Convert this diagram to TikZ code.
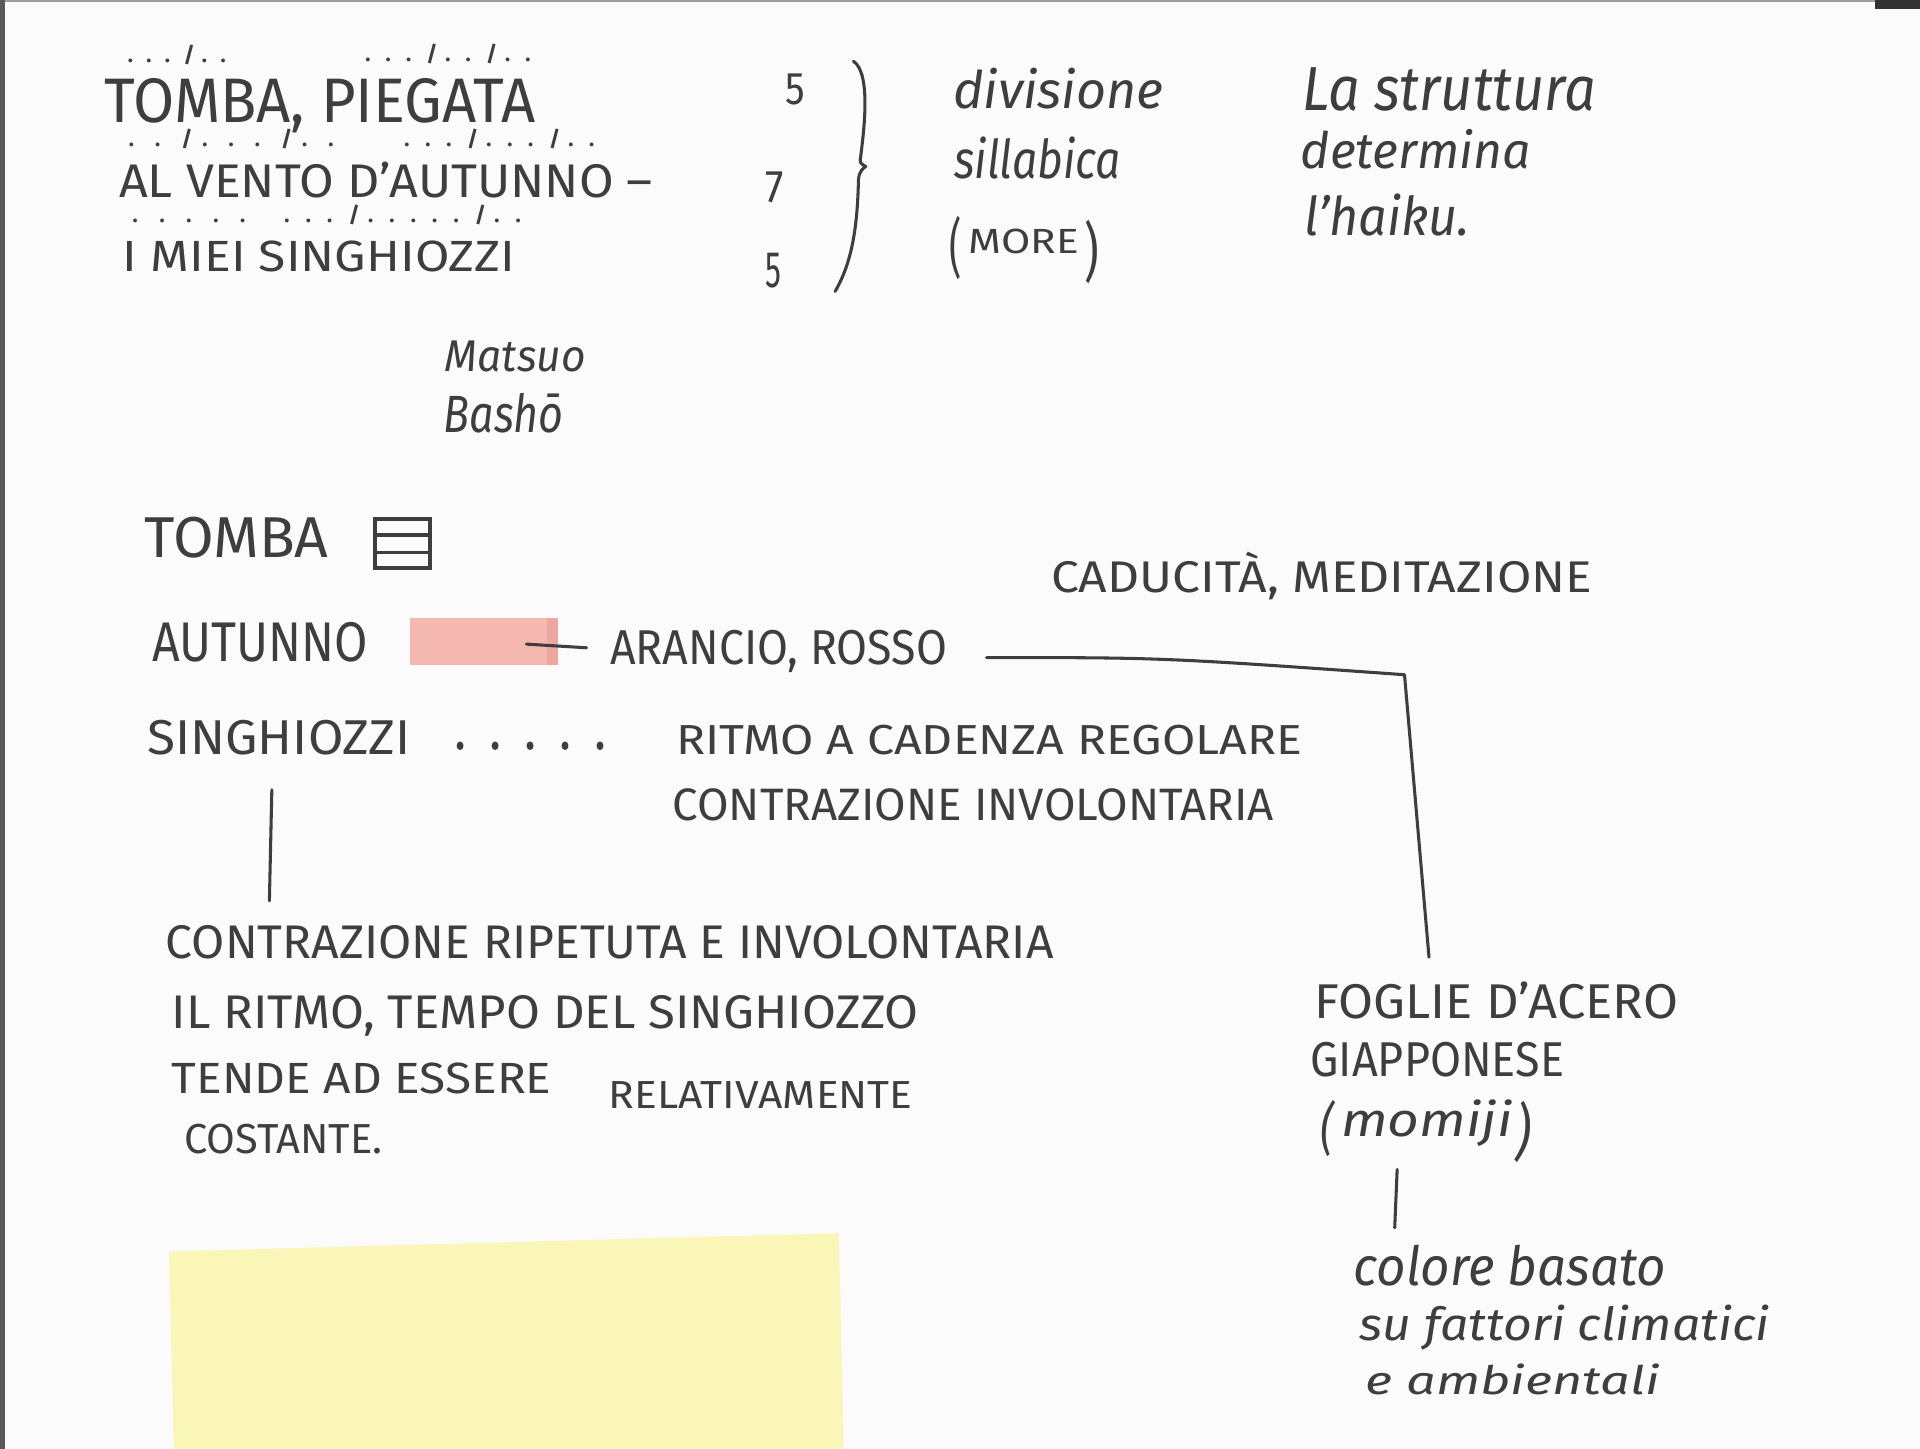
\documentclass[tikz,border=0pt]{standalone}
\usepackage{fontspec}
\setmainfont{Fira Sans}
\usepackage{graphicx}
\usetikzlibrary{calc}
% one unit of the sketch grid
\newlength\upx
\setlength\upx{0.6pt}
% hand-lettered text squeezed into a given width and height (in grid units)
\newcommand\hand[3]{\resizebox{#1\upx}{#2\upx}{#3}}
\newcommand\handt[3]{\resizebox*{#1\upx}{#2\upx}{#3}}
% scansion marks spread evenly over a given width
\newcommand\scan[2]{{\fontsize{10.5pt}{12pt}\selectfont\bfseries\makebox[#1\upx][s]{#2}}}
\definecolor{ink}{RGB}{62,62,62}
\definecolor{paper}{RGB}{251,251,251}
\definecolor{edge}{RGB}{88,88,88}
\definecolor{marker}{RGB}{245,184,177}
\definecolor{markerdeep}{RGB}{239,166,160}
\definecolor{sticky}{RGB}{249,246,184}
\begin{document}
\begin{tikzpicture}[x=0.6pt,y=-0.6pt,
  txt/.style={anchor=base west, inner sep=0pt, text=ink},
  cur/.style={txt, font=\itshape},
  pen/.style={draw=ink, line width=1.5pt, line cap=round, line join=round},
  tombbox/.style={draw=ink, line width=1.8pt, minimum width=27pt, minimum height=24pt, inner sep=0pt},
  swatchbox/.style={fill=marker, minimum width=72.6pt, minimum height=22.8pt, inner sep=0pt}]
\useasboundingbox (0,0) rectangle (1568,1183);
\fill[paper] (0,0) rectangle (1568,1183);
% scanner edges
\fill[edge] (0,0) rectangle (4,1183);
\fill[edge!60] (4,0) rectangle (1531,1.6);
\fill[black!80] (1531,0) rectangle (1568,7);

% ---- the haiku with its scansion ----
\node[txt] (s1a) at (104,51) {\scan{80}{. . . / . .}};
\node[txt] (s1b) at (298,50) {\scan{135}{. . . / . . / . .}};
\node[txt] (v1) at (85,100) {\hand{352}{36}{TOMBA, PIEGATA}};
\node[txt] (s2a) at (105,120) {\scan{167}{. . / . . . / . .}};
\node[txt] (s2b) at (330,120) {\scan{155}{. . . / . . . / . .}};
\node[txt] (v2) at (97,161) {\hand{436}{29}{AL VENTO D'AUTUNNO –}};
\node[txt] (s3a) at (108,182) {\scan{92}{. . . . .}};
\node[txt] (s3b) at (232,182) {\scan{193}{. . . / . . . . . / . .}};
\node[txt] (v3) at (100,222) {\hand{320}{25}{I MIEI SINGHIOZZI}};

% syllable counts
\node[txt] (n1) at (641,85) {\hand{16}{25}{5}};
\node[txt] (n2) at (625,165) {\hand{15}{25}{7}};
\node[txt] (n3) at (625,235) {\hand{13}{28}{5}};
\draw[pen] (697,50) .. controls (712,60) and (705,110) .. (703,127)
  .. controls (702,133) .. (707,136)
  .. controls (701,140) and (701,145) .. (701,150)
  .. controls (700,185) and (696,214) .. (682,238);

% notes on the right
\node[cur] (div) at (778,89) {\hand{172}{33}{divisione}};
\node[cur] (sill) at (779,146) {\hand{136}{34}{sillabica}};
\node[txt] (more) at (775,207) {\raisebox{-14\upx}{\handt{10}{52}{(}}\hspace{6\upx}\hand{90}{20}{MORE}\hspace{4\upx}\raisebox{-17\upx}{\handt{12}{52}{)}}};
\node[cur] (str) at (1063,90) {\hand{240}{35}{La struttura}};
\node[cur] (det) at (1062,138) {\hand{188}{32}{determina}};
\node[cur] (hai) at (1065,192) {\hand{135}{34}{l'haiku.}};

% the poet
\node[cur] (matsuo) at (363,303) {\hand{115}{25}{Matsuo}};
\node[cur] (basho) at (362,353) {\hand{98}{32}{Bashō}};

% ---- word notes ----
\node[txt] (tomba) at (118,455) {\hand{150}{33}{TOMBA}};
\node[tombbox] (tomb) at (328.5,444) {};
\draw[draw=ink, line width=1.8pt] ($(tomb.north west)!0.34!(tomb.south west)$) -- ($(tomb.north east)!0.34!(tomb.south east)$);
\draw[draw=ink, line width=1.8pt] ($(tomb.north west)!0.67!(tomb.south west)$) -- ($(tomb.north east)!0.67!(tomb.south east)$);

\node[txt] (caduc) at (858,484) {\hand{442}{33}{CADUCITÀ, MEDITAZIONE}};

\node[txt] (autunno) at (124,540) {\hand{176}{32}{AUTUNNO}};
\node[swatchbox] (swatch) at (395,524) {};
\fill[markerdeep] ($(swatch.north east)+(-9,0)$) rectangle (swatch.south east);
\node[txt] (rosso) at (498,543) {\hand{275}{28}{ARANCIO, ROSSO}};
\draw[pen] ($(swatch.east)+(-26,2)$) -- ($(rosso.base west)+(-19,-14)$);

\node[txt] (singh) at (120,616) {\hand{215}{28}{SINGHIOZZI}};
\node[txt] (ritmo) at (552,616) {\hand{511}{24}{RITMO A CADENZA REGOLARE}};
\node[txt] (invol) at (549,670) {\hand{491}{26}{CONTRAZIONE INVOLONTARIA}};
% dotted lead from the word to its meaning
\coordinate (d1) at ($(singh.base east)+(40,-7)$);
\coordinate (d2) at ($(ritmo.base west)+(-62,-7)$);
\foreach \p in {0,0.25,0.5,0.75,1}
  \fill[ink] ($(d1)!\p!(d2)$) ellipse[x radius=1.7pt, y radius=2.1pt];

\node[txt] (rip) at (135,783) {\hand{725}{27}{CONTRAZIONE RIPETUTA E INVOLONTARIA}};
\node[txt] (tempo) at (140,840) {\hand{610}{27}{IL RITMO, TEMPO DEL SINGHIOZZO}};
\node[txt] (tende) at (140,893) {\hand{310}{25}{TENDE AD ESSERE}};
\node[txt] (relat) at (497,905) {\hand{248}{22}{RELATIVAMENTE}};
\node[txt] (cost) at (150,942) {\hand{162}{24}{COSTANTE.}};
\draw[pen] ($(singh.base west)+(102,29)$) -- ($(rip.north west)+(85,-20)$);

\node[txt] (foglie) at (1073,832) {\hand{297}{30}{FOGLIE D'ACERO}};
\node[txt] (giapp) at (1070,879) {\hand{207}{28}{GIAPPONESE}};
\node[cur] (momiji) at (1078,928) {\raisebox{-10\upx}{\handt{11}{46}{(}}\hspace{6\upx}\hand{140}{30}{momiji}\hspace{2\upx}\raisebox{-14\upx}{\handt{13}{50}{)}}};
\coordinate (bend) at (1147,551);
\draw[pen] ($(rosso.base east)+(32,-6)$) .. controls (950,537) .. (bend)
  -- ($(foglie.north west)+(94,-20)$);

\node[cur] (colore) at (1105,1050) {\hand{255}{33}{colore basato}};
\node[cur] (fattori) at (1110,1095) {\hand{335}{29}{su fattori climatici}};
\node[cur] (ambient) at (1115,1139) {\hand{240}{25}{e ambientali}};
\draw[pen] ($(momiji.base west)+(63,27)$) -- ($(colore.north west)+(34,-14)$);

% sticky note
\fill[sticky] (138,1022) -- (685,1007) -- (689,1183) -- (142,1183) -- cycle;
\end{tikzpicture}
\end{document}
